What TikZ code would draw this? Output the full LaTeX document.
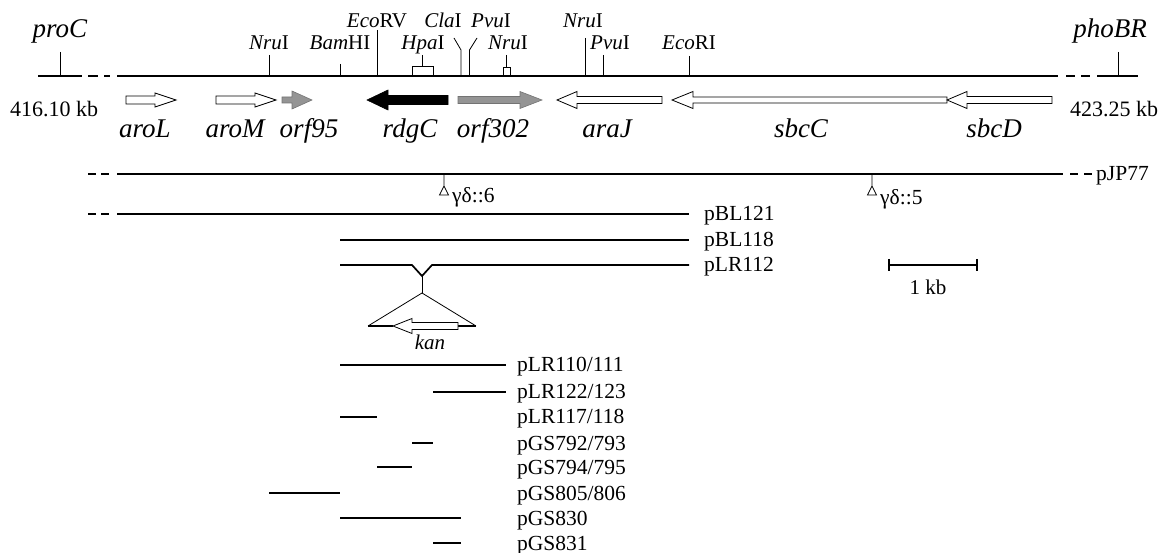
\documentclass[tikz,border=0pt]{standalone}
\usepackage{fontspec}
\setmainfont{Liberation Serif}
\newcommand{\genearr}[7]{% style, tail, head base, tip, shaft half, head half, y
  \filldraw[#1] (#2,#7-#5) -- (#3,#7-#5) -- (#3,#7-#6) -- (#4,#7) -- (#3,#7+#6) -- (#3,#7+#5) -- (#2,#7+#5) -- cycle;}
\begin{document}
\begin{tikzpicture}[x=1pt,y=-1pt,
  mainline/.style={line width=2.8pt},
  tick/.style={line width=0.8pt},
  plas/.style={line width=1.7pt},
  rs/.style={font=\fontsize{21}{22}\selectfont, anchor=base, inner sep=0pt},
  locus/.style={font=\fontsize{27}{28}\selectfont\itshape, anchor=base, inner sep=0pt},
  gene/.style={font=\fontsize{27}{28}\selectfont\itshape, anchor=base, inner sep=0pt},
  kb/.style={font=\fontsize{22}{23}\selectfont, inner sep=0pt},
  plab/.style={font=\fontsize{21.5}{22}\selectfont, anchor=base west, inner sep=0pt},
  openarr/.style={draw=black, fill=white, line width=0.8pt},
  grayarr/.style={draw=black!55, fill=black!42, line width=0.6pt},
  blackarr/.style={draw=black, fill=black, line width=0.6pt}]
\useasboundingbox (0,0) rectangle (1160,553);
% main chromosome line
\draw[mainline] (38,76) -- (82,76);
\draw[mainline] (88,76) -- (98,76);
\draw[mainline] (104,76) -- (110,76);
\draw[mainline] (117,76) -- (1058,76);
\draw[mainline] (1066,76) -- (1075,76);
\draw[mainline] (1081,76) -- (1090,76);
\draw[mainline] (1097,76) -- (1138,76);
% loci
\draw[tick] (60,52) -- (60,76);
\node[locus] (proC) at (60,38) {proC};
\draw[tick] (1118,52) -- (1118,76);
\node[locus] (phoBR) at (1110,38) {phoBR};
\node[kb, anchor=base] (kbL) at (54,117) {416.10 kb};
\node[kb, anchor=base west] (kbR) at (1070,117) {423.25 kb};
% restriction sites
\draw[tick] (269,55) -- (269,76);
\node[rs] (nru1) at (269,50) {\textit{Nru}I};
\draw[tick] (340,64) -- (340,76);
\node[rs] (bam) at (340,50) {\textit{Bam}HI};
\draw[tick] (377,30) -- (377,76);
\node[rs] (ecorv) at (377,28) {\textit{Eco}RV};
\draw[tick] (412,76) -- (412,66) -- (433,66) -- (433,76);
\draw[tick] (422.5,55) -- (422.5,66);
\node[rs] (hpa) at (423,50) {\textit{Hpa}I};
\draw[tick] (461,76) -- (461,50) -- (454,38);
\node[rs] (cla) at (443,28) {\textit{Cla}I};
\draw[tick] (469.5,76) -- (469.5,50) -- (477,38);
\node[rs] (pvu1) at (491,28) {\textit{Pvu}I};
\draw[tick] (503,76) -- (503,67) -- (510,67) -- (510,76);
\draw[tick] (506.5,55) -- (506.5,67);
\node[rs] (nru2) at (508,50) {\textit{Nru}I};
\draw[tick] (585,38) -- (585,76);
\node[rs] (nru3) at (583,28) {\textit{Nru}I};
\draw[tick] (603,55) -- (603,76);
\node[rs] (pvu2) at (610,50) {\textit{Pvu}I};
\draw[tick] (689,56) -- (689,76);
\node[rs] (ecori) at (689,50) {\textit{Eco}RI};
% genes
\genearr{openarr}{126}{155}{176}{4}{7}{100}
\genearr{openarr}{216}{255}{276}{4}{7}{100}
\genearr{grayarr}{282}{292}{312}{3}{9}{100}
\genearr{blackarr}{448}{388}{367}{4.5}{10}{100}
\genearr{grayarr}{458}{520}{542}{3.5}{8.5}{100}
\genearr{openarr}{662}{577}{557}{3.5}{8.5}{100}
\genearr{openarr}{947}{693}{672}{3}{8.5}{100}
\genearr{openarr}{1052}{967}{947}{3.5}{8.5}{100}
\node[gene] (aroL) at (145,138) {aroL};
\node[gene] (aroM) at (235,138) {aroM};
\node[gene] (orf95) at (309,138) {orf95};
\node[gene] (rdgC) at (410,138) {rdgC};
\node[gene] (orf302) at (493,138) {orf302};
\node[gene] (araJ) at (607,138) {araJ};
\node[gene] (sbcC) at (801,138) {sbcC};
\node[gene] (sbcD) at (994,138) {sbcD};
% pJP77
\draw[plas] (88,174) -- (96,174);
\draw[plas] (101,174) -- (109,174);
\draw[plas] (117,174) -- (1063,174);
\draw[plas] (1070,174) -- (1078,174);
\draw[plas] (1084,174) -- (1092,174);
\node[plab] (pJP77) at (1096,181) {pJP77};
\draw[tick] (444,174) -- (444,186) -- (448.5,195) -- (439.5,195) -- (444,186);
\node[plab] (gd6) at (452,203) {γδ::6};
\draw[tick] (872,174) -- (872,186) -- (876.5,195) -- (867.5,195) -- (872,186);
\node[plab] (gd5) at (880,205) {γδ::5};
% pBL121
\draw[plas] (88,214) -- (96,214);
\draw[plas] (101,214) -- (109,214);
\draw[plas] (117,214) -- (689,214);
\node[plab] (pBL121) at (704,221) {pBL121};
\draw[plas] (340,240) -- (689,240);
\node[plab] (pBL118) at (704,247) {pBL118};
% pLR112 with insertion
\draw[plas] (340,265) -- (412,265) -- (422,276) -- (432,265) -- (689,265);
\node[plab] (pLR112) at (704,272) {pLR112};
\draw[tick] (422,276) -- (422,293);
\draw[tick] (368,326) -- (422,293) -- (476,326);
\draw[plas] (368,326) -- (393,326);
\draw[plas] (458,326) -- (476,326);
\genearr{openarr}{458}{412}{393}{3.5}{7.5}{326}
\node[gene, font=\fontsize{21}{22}\selectfont\itshape] (kan) at (430,350) {kan};
% scale bar
\draw[line width=2pt] (889,265) -- (977,265);
\draw[line width=1.6pt] (889,259) -- (889,271);
\draw[line width=1.6pt] (977,259) -- (977,271);
\node[kb, anchor=base, font=\fontsize{21}{22}\selectfont] (onekb) at (928,295) {1 kb};
% subclones
\draw[plas] (340,365) -- (506,365);
\node[plab] (p110) at (517,372) {pLR110/111};
\draw[plas] (433,392) -- (506,392);
\node[plab] (p122) at (517,399) {pLR122/123};
\draw[plas] (340,417) -- (377,417);
\node[plab] (p117) at (517,424) {pLR117/118};
\draw[plas] (412,443) -- (433,443);
\node[plab] (p792) at (517,450) {pGS792/793};
\draw[plas] (377,467) -- (412,467);
\node[plab] (p794) at (517,474) {pGS794/795};
\draw[plas] (269,493) -- (340,493);
\node[plab] (p805) at (517,500) {pGS805/806};
\draw[plas] (340,518) -- (461,518);
\node[plab] (p830) at (517,525) {pGS830};
\draw[plas] (433,543) -- (461,543);
\node[plab] (p831) at (517,550) {pGS831};
\end{tikzpicture}
\end{document}
